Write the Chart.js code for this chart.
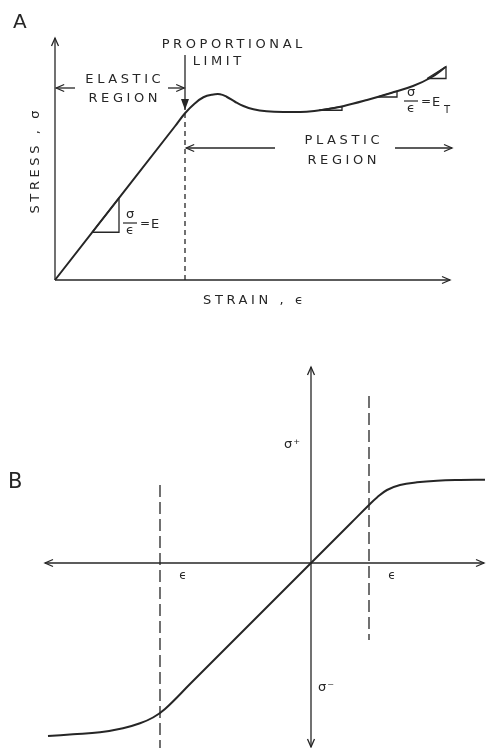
<!DOCTYPE html>
<html>
<head>
<meta charset="utf-8">
<script src="https://cdn.jsdelivr.net/npm/chart.js@4.4.1/dist/chart.umd.min.js"></script>
<style>
  html, body { margin: 0; padding: 0; background: #fff; }
  #wrap { position: relative; width: 486px; height: 748px; }
  canvas { position: absolute; left: 0; }
  #chartA { top: 0; width: 486px; height: 320px; }
  #chartB { top: 320px; width: 486px; height: 428px; }
</style>
</head>
<body>
<div id="wrap">
  <canvas id="chartA" width="486" height="320"></canvas>
  <canvas id="chartB" width="486" height="428"></canvas>
</div>
<script>
// ---- A: stress vs strain (arbitrary units) ----
// straight elastic part up to the proportional limit, then the plastic curve
const strainA = [0, 30, 32.5, 35, 37.1, 39.2, 41.25, 42.9, 45, 47.1, 49.6, 52.9, 57.1, 62.9, 68, 72, 78, 84, 89.5, 94, 97.75];
const stressA = [0, 61.5, 66.7, 70.7, 73.1, 74.1, 74.3, 73.3, 71.3, 69.6, 68.3, 67.5, 67.2, 67.3, 68.3, 69.5, 72, 74.8, 77.6, 81, 85.3];
const limitStrain = 32.5;
const limitStress = 66.7;

// slope triangles (x corners, y corners)
const slopeE = [[9.3, 16, 16, 9.3], [19.1, 32.8, 19.1, 19.1]];
const slopeT = [
  [[66, 71.75, 71.75, 66], [67.9, 69.4, 67.9, 67.9]],
  [[80.5, 85.5, 85.5, 80.5], [73.2, 75.5, 73.2, 73.2]],
  [[93, 97.75, 97.75, 93], [80.6, 85.3, 80.6, 80.6]]
];

// ---- B: tension / compression about the origin ----
const strainB = [-26.3, -23.8, -21.1, -18.8, -17.1, -15.8, -14.6, -12, 0, 4, 5.8, 6.6, 7.6, 8.9, 10.6, 12.6, 14.9, 17.4];
const stressB = [-17.3, -17.13, -16.93, -16.53, -16.03, -15.45, -14.6, -12, 0, 4, 5.8, 6.55, 7.3, 7.8, 8.07, 8.23, 8.3, 8.33];
const yieldNeg = -15.1;
const yieldPos = 5.8;

const ink = '#262626';
const face = '"DejaVu Sans", sans-serif';

function pts(xs, ys) {
  return xs.map((x, i) => ({ x: x, y: ys[i] }));
}

function line(xs, ys, extra) {
  return Object.assign({
    data: pts(xs, ys),
    showLine: true,
    pointRadius: 0,
    borderColor: ink,
    borderWidth: 2,
    fill: false,
    tension: 0,
    clip: false
  }, extra || {});
}

function head(ctx, x0, y0, x1, y1, filled) {
  const a = Math.atan2(y1 - y0, x1 - x0);
  const len = filled ? 11 : 8, w = filled ? 4 : 3.5;
  const bx = x1 - len * Math.cos(a), by = y1 - len * Math.sin(a);
  const px = -Math.sin(a) * w, py = Math.cos(a) * w;
  ctx.beginPath();
  ctx.moveTo(bx + px, by + py);
  ctx.lineTo(x1, y1);
  ctx.lineTo(bx - px, by - py);
  if (filled) { ctx.closePath(); ctx.fill(); } else ctx.stroke();
}

function text(ctx, s, x, y, size, spacing) {
  ctx.font = size + 'px ' + face;
  ctx.letterSpacing = (spacing || 0) + 'px';
  const shift = ctx.textAlign === 'center' ? (spacing || 0) / 2 : 0;
  ctx.fillText(s, x + shift, y);
}

function fraction(ctx, x, y, rhs, sub) {
  ctx.textAlign = 'center';
  ctx.textBaseline = 'middle';
  text(ctx, 'σ', x, y - 8, 13);
  text(ctx, 'ϵ', x, y + 8, 13);
  text(ctx, '=', x + 15, y + 1, 12);
  ctx.lineWidth = 1.2;
  ctx.beginPath();
  ctx.moveTo(x - 7, y); ctx.lineTo(x + 7, y);
  ctx.stroke();
  ctx.textAlign = 'left';
  text(ctx, rhs, x + 21, y + 2, 13);
  if (sub) text(ctx, sub, x + 33, y + 9, 10);
}

// arrows, labels and extras drawn on top of the datasets
function decor(arrows, labels, extra) {
  return {
    id: 'decor',
    afterDraw(chart) {
      const ctx = chart.ctx, sx = chart.scales.x, sy = chart.scales.y;
      const X = v => sx.getPixelForValue(v), Y = v => sy.getPixelForValue(v);
      ctx.save();
      ctx.strokeStyle = ink;
      ctx.fillStyle = ink;
      ctx.lineWidth = 1.3;
      arrows.forEach(a => {
        const x0 = X(a[0]), y0 = Y(a[1]), x1 = X(a[2]), y1 = Y(a[3]);
        ctx.beginPath(); ctx.moveTo(x0, y0); ctx.lineTo(x1, y1); ctx.stroke();
        head(ctx, x0, y0, x1, y1, a[5]);
        if (a[4] === 'both') head(ctx, x1, y1, x0, y0, a[5]);
      });
      ctx.textAlign = 'center';
      ctx.textBaseline = 'middle';
      labels.forEach(l => text(ctx, l[0], X(l[1]), Y(l[2]), l[3], l[4]));
      if (extra) extra(ctx, X, Y);
      ctx.restore();
    }
  };
}

const arrowsA = [
  [0, 0, 0, 96.8, 'end'],
  [0, 0, 98.75, 0, 'end'],
  [5, 76.8, 0.3, 76.8, 'end'],
  [28.25, 76.8, 32.3, 76.8, 'end'],
  [limitStrain, 90, limitStrain, 68, 'end', true],
  [55, 52.8, 32.8, 52.8, 'end'],
  [85, 52.8, 99.25, 52.8, 'end']
];
const labelsA = [
  ['PROPORTIONAL', 44.25, 94, 13, 3.6],
  ['LIMIT', 40.5, 87.2, 13, 3.6],
  ['ELASTIC', 17, 80, 13, 3.6],
  ['REGION', 17, 72.4, 13, 3.6],
  ['PLASTIC', 71.75, 55.6, 13, 3.6],
  ['REGION', 71.75, 47.6, 13, 3.6],
  ['STRAIN , ϵ', 49.5, -8.4, 13, 3.6]
];

const dsA = [
  line(strainA, stressA, { tension: 0.4 }),
  line([limitStrain, limitStrain], [0, limitStress], { borderWidth: 1.3, borderDash: [5, 4] }),
  line(slopeE[0], slopeE[1], { borderWidth: 1.3 })
].concat(slopeT.map(t => line(t[0], t[1], { borderWidth: 1.3 })));

new Chart(document.getElementById('chartA'), {
  type: 'scatter',
  data: { datasets: dsA },
  options: {
    responsive: false,
    animation: false,
    events: [],
    layout: { padding: { left: 55, right: 31, top: 30, bottom: 40 } },
    scales: {
      x: { display: false, min: 0, max: 100 },
      y: { display: false, min: 0, max: 100 }
    },
    plugins: { legend: { display: false }, tooltip: { enabled: false } }
  },
  plugins: [decor(arrowsA, labelsA, (ctx, X, Y) => {
    ctx.save();
    ctx.translate(36, 162);
    ctx.rotate(-Math.PI / 2);
    text(ctx, 'STRESS , σ', 0, 0, 13, 3.6);
    ctx.restore();
    fraction(ctx, X(18.75), Y(22.8), 'E');
    fraction(ctx, X(89), Y(71.6), 'E', 'T');
    ctx.textAlign = 'left';
    ctx.textBaseline = 'alphabetic';
    text(ctx, 'A', 13, 28, 20);
  })]
});

const arrowsB = [
  [-26.6, 0, 17.3, 0, 'both'],
  [0, -18.4, 0, 19.6, 'both']
];
const labelsB = [
  ['σ⁺', -1.9, 11.8, 13, 1],
  ['σ⁻', 1.5, -12.5, 13, 1],
  ['ϵ', -12.8, -1.3, 12, 0],
  ['ϵ', 8.1, -1.3, 12, 0]
];

const dsB = [
  line(strainB, stressB, { tension: 0.4 }),
  line([yieldNeg, yieldNeg], [7.8, -18.5], { borderWidth: 1.3, borderDash: [12, 5] }),
  line([yieldPos, yieldPos], [16.7, -7.7], { borderWidth: 1.3, borderDash: [12, 5] })
];

new Chart(document.getElementById('chartB'), {
  type: 'scatter',
  data: { datasets: dsB },
  options: {
    responsive: false,
    animation: false,
    events: [],
    layout: { padding: 0 },
    scales: {
      x: { display: false, min: -31.1, max: 17.5 },
      y: { display: false, min: -18.5, max: 24.3 }
    },
    plugins: { legend: { display: false }, tooltip: { enabled: false } }
  },
  plugins: [decor(arrowsB, labelsB, ctx => {
    ctx.textAlign = 'left';
    ctx.textBaseline = 'alphabetic';
    text(ctx, 'B', 8, 168, 21);
  })]
});
</script>
</body>
</html>
